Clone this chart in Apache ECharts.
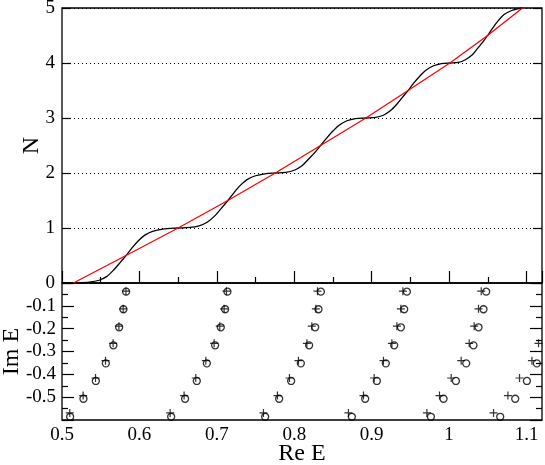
<!DOCTYPE html>
<html>
<head>
<meta charset="utf-8">
<script src="https://cdn.jsdelivr.net/npm/echarts@6/dist/echarts.min.js"></script>
<style>
  html, body { margin: 0; padding: 0; background: #fff; }
  #chart { width: 545px; height: 465px; }
</style>
</head>
<body>
<div id="chart"></div>
<script>
// counting function N(Re E), black curve
const blackRe = [0.500, 0.520, 0.535, 0.548, 0.558, 0.567, 0.575, 0.5827, 0.590, 0.598, 0.607, 0.617, 0.630, 0.650,
  0.665, 0.677, 0.688, 0.698, 0.706, 0.7142, 0.722, 0.730, 0.739, 0.750, 0.762, 0.7755,
  0.789, 0.800, 0.810, 0.819, 0.827, 0.834, 0.841, 0.849, 0.858, 0.868, 0.879, 0.8925,
  0.905, 0.915, 0.924, 0.933, 0.940, 0.947, 0.954, 0.962, 0.970, 0.980, 0.990, 1.001,
  1.012, 1.021, 1.030, 1.037, 1.0435, 1.0497, 1.056, 1.063, 1.071, 1.080, 1.088, 1.0948];
const blackN = [0.000, 0.003, 0.015, 0.05, 0.12, 0.24, 0.37, 0.5, 0.63, 0.76, 0.87, 0.94, 0.98, 1.0,
  1.01, 1.04, 1.11, 1.23, 1.36, 1.5, 1.64, 1.77, 1.88, 1.95, 1.985, 2.0,
  2.01, 2.05, 2.13, 2.26, 2.38, 2.5, 2.62, 2.75, 2.87, 2.95, 2.99, 3.0,
  3.01, 3.05, 3.13, 3.26, 3.38, 3.5, 3.63, 3.76, 3.87, 3.95, 3.99, 4.0,
  4.01, 4.06, 4.15, 4.27, 4.38, 4.5, 4.63, 4.76, 4.88, 4.95, 4.985, 5.0];

// smooth part, red curve
const redRe = [0.5147, 0.5827, 0.6500, 0.7142, 0.7755, 0.8340, 0.8925, 0.9470, 1.0010, 1.0497, 1.0948];
const redN = [0, 0.5, 1, 1.5, 2, 2.5, 3, 3.5, 4, 4.5, 5];

// resonances, lower panel (rows share Im E)
const imCirc = [-0.038, -0.115, -0.194, -0.273, -0.352, -0.429, -0.507, -0.586];
const imPlus = [-0.036, -0.113, -0.189, -0.264, -0.340, -0.416, -0.493, -0.569];

const circRe = [
  [0.5828, 0.5793, 0.5738, 0.5664, 0.5566, 0.5437, 0.5277, 0.5105],
  [0.7137, 0.7107, 0.7051, 0.6978, 0.6871, 0.6741, 0.6590, 0.6410],
  [0.8344, 0.8313, 0.8270, 0.8192, 0.8085, 0.7960, 0.7805, 0.7624],
  [0.9455, 0.9420, 0.9377, 0.9291, 0.9183, 0.9067, 0.8916, 0.8744],
  [1.0479, 1.0444, 1.0380, 1.0315, 1.0221, 1.0088, 0.9928, 0.9765],
  [null, null, null, null, 1.1133, 1.1005, 1.0854, 1.0660]
];
const plusRe = [
  [0.5826, 0.5790, 0.5735, 0.5660, 0.5562, 0.5433, 0.5273, 0.5100],
  [0.7124, 0.7094, 0.7038, 0.6965, 0.6858, 0.6728, 0.6577, 0.6397],
  [0.8300, 0.8279, 0.8227, 0.8163, 0.8054, 0.7938, 0.7783, 0.7602],
  [0.9403, 0.9377, 0.9326, 0.9261, 0.9152, 0.9032, 0.8894, 0.8700],
  [1.0415, 1.0380, 1.0324, 1.0260, 1.0156, 1.0027, 0.9876, 0.9713],
  [null, null, null, 1.1155, 1.1070, 1.0910, 1.0760, 1.0574]
];

const xTicks = { min: 0.5, max: 1.12, interval: 0.1 };

function pairs(xs, ys) {
  const out = [];
  xs.forEach(function (x, i) { if (x !== null) out.push([x, ys[i]]); });
  return out;
}
function resonances(cols, ims) {
  let out = [];
  cols.forEach(function (c) { out = out.concat(pairs(c, ims)); });
  return out;
}

const serif = "'Liberation Serif', 'DejaVu Serif', serif";
const black = '#000';
const labelStyle = { color: black, fontFamily: serif, fontSize: 19 };
const nameStyle = { color: black, fontFamily: serif, fontSize: 24 };
const tickLine = { color: black, width: 1.2 };

const chart = echarts.init(document.getElementById('chart'));
chart.setOption({
  animation: false,
  backgroundColor: '#fff',
  grid: [
    { left: 62, right: 3, top: 8, height: 275, show: true, borderColor: black, borderWidth: 1.3, outerBoundsMode: 'none' },
    { left: 62, right: 3, top: 283, height: 137, show: true, borderColor: black, borderWidth: 1.3, outerBoundsMode: 'none' }
  ],
  xAxis: [
    {
      gridIndex: 0, type: 'value', min: xTicks.min, max: xTicks.max, interval: xTicks.interval,
      axisLine: { show: false }, axisTick: { show: false }, axisLabel: { show: false }, splitLine: { show: false }
    },
    {
      gridIndex: 1, type: 'value', min: xTicks.min, max: xTicks.max, interval: xTicks.interval,
      axisLine: { show: false },
      axisTick: { inside: true, length: 12, lineStyle: tickLine },
      minorTick: { show: true, splitNumber: 2, length: 6, lineStyle: tickLine },
      axisLabel: Object.assign({ margin: 6, showMaxLabel: false }, labelStyle),
      splitLine: { show: false },
      name: 'Re E', nameLocation: 'middle', nameGap: 22, nameMoveOverlap: false, nameTextStyle: nameStyle
    }
  ],
  yAxis: [
    {
      gridIndex: 0, type: 'value', min: 0, max: 5, interval: 1,
      axisLine: { show: false },
      axisTick: { inside: true, length: 9, lineStyle: tickLine },
      axisLabel: Object.assign({ margin: 7 }, labelStyle),
      splitLine: { show: true, lineStyle: { color: black, width: 1, type: [1, 3] } },
      name: 'N', nameLocation: 'middle', nameGap: 18, nameMoveOverlap: false, nameTextStyle: nameStyle
    },
    {
      gridIndex: 0, type: 'value', position: 'right', min: 0, max: 5, interval: 1,
      axisLine: { show: false },
      axisTick: { inside: true, length: 9, lineStyle: tickLine },
      axisLabel: { show: false }, splitLine: { show: false }
    },
    {
      gridIndex: 1, type: 'value', min: -0.6, max: 0, interval: 0.1,
      axisLine: { show: false },
      axisTick: { inside: true, length: 12, lineStyle: tickLine },
      minorTick: { show: true, splitNumber: 2, length: 6, lineStyle: tickLine },
      axisLabel: Object.assign({ margin: 6, showMinLabel: false, showMaxLabel: false }, labelStyle),
      splitLine: { show: false },
      name: 'Im E', nameLocation: 'middle', nameGap: 38, nameMoveOverlap: false, nameTextStyle: nameStyle
    },
    {
      gridIndex: 1, type: 'value', position: 'right', min: -0.6, max: 0, interval: 0.1,
      axisLine: { show: false },
      axisTick: { inside: true, length: 12, lineStyle: tickLine },
      minorTick: { show: true, splitNumber: 2, length: 6, lineStyle: tickLine },
      axisLabel: { show: false }, splitLine: { show: false }
    }
  ],
  series: [
    {
      type: 'line', xAxisIndex: 0, yAxisIndex: 0, data: pairs(blackRe, blackN),
      smooth: 0.3, symbol: 'none', clip: true,
      lineStyle: { color: black, width: 1.3 }
    },
    {
      type: 'line', xAxisIndex: 0, yAxisIndex: 0, data: pairs(redRe, redN),
      symbol: 'none', clip: true,
      lineStyle: { color: '#ff0000', width: 1.3 }
    },
    {
      type: 'scatter', xAxisIndex: 1, yAxisIndex: 2, data: resonances(plusRe, imPlus),
      symbol: 'path://M5,0L5,10M0,5L10,5', symbolSize: 8, clip: true,
      itemStyle: { color: 'none', borderColor: black, borderWidth: 1.2 }
    },
    {
      type: 'scatter', xAxisIndex: 1, yAxisIndex: 2, data: resonances(circRe, imCirc),
      symbol: 'circle', symbolSize: 7, clip: true,
      itemStyle: { color: 'none', borderColor: black, borderWidth: 1.3 }
    }
  ]
});
</script>
</body>
</html>
